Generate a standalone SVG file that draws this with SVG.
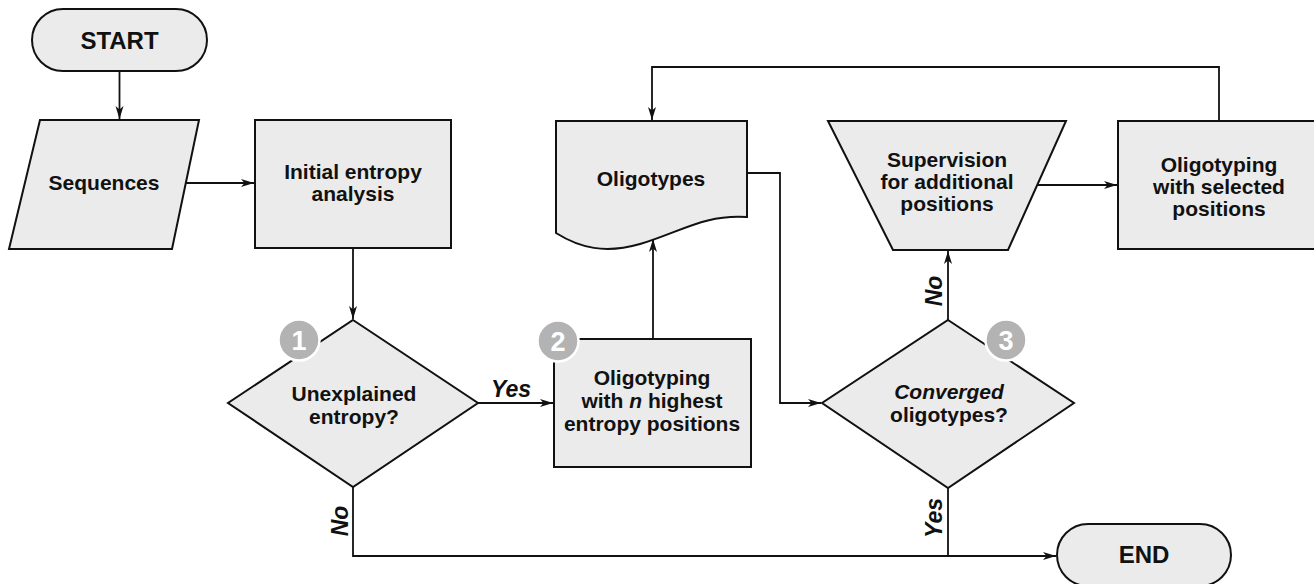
<svg xmlns="http://www.w3.org/2000/svg" width="1314" height="584" viewBox="0 0 1314 584">
<style>
.shape{fill:#ebebeb;stroke:#111;stroke-width:2}
.t{font-family:"Liberation Sans",Arial,sans-serif;font-weight:bold;font-size:21px;fill:#111;text-anchor:middle}
.big{font-size:24px}
.lbl{font-family:"Liberation Sans",Arial,sans-serif;font-weight:bold;font-style:italic;font-size:23px;fill:#111;text-anchor:middle}
.conn{fill:none;stroke:#111;stroke-width:1.8}
.badge circle{fill:#b3b3b3;stroke:#fff;stroke-width:2.5}
.badge text{font-family:"Liberation Sans",Arial,sans-serif;font-weight:bold;font-size:27px;fill:#fff;text-anchor:middle}
</style>
<defs>
<marker id="arr" markerUnits="userSpaceOnUse" markerWidth="14" markerHeight="9" refX="13" refY="4" orient="auto">
<path d="M0,0 L13,4 L0,8 L3.5,4 Z" fill="#111"/>
</marker>
</defs>
<rect width="1314" height="584" fill="#fff"/>
<g id="connectors">
<path class="conn" d="M119.5,71 V119" marker-end="url(#arr)"/>
<path class="conn" d="M186,183 H254" marker-end="url(#arr)"/>
<path class="conn" d="M353,248 V319" marker-end="url(#arr)"/>
<path class="conn" d="M478,403 H553" marker-end="url(#arr)"/>
<path class="conn" d="M653,339 V239" marker-end="url(#arr)"/>
<path class="conn" d="M747,173 H780 V403 H821" marker-end="url(#arr)"/>
<path class="conn" d="M948,320 V251" marker-end="url(#arr)"/>
<path class="conn" d="M1037,185 H1117" marker-end="url(#arr)"/>
<path class="conn" d="M1219,121 V67 H652 V120" marker-end="url(#arr)"/>
<path class="conn" d="M353,487 V556 H1056" marker-end="url(#arr)"/>
<path class="conn" d="M948,488 V556"/>
<text class="lbl" x="511" y="397">Yes</text>
<text class="lbl" transform="translate(348,521) rotate(-90)">No</text>
<text class="lbl" transform="translate(942,291) rotate(-90)">No</text>
<text class="lbl" transform="translate(942,518) rotate(-90)">Yes</text>
</g>
<g id="start">
<rect class="shape" x="32" y="9" width="175" height="62" rx="31"/>
<text class="t big" x="119.5" y="49">START</text>
</g>
<g id="sequences">
<polygon class="shape" points="40,120 199,120 172,249 9,249"/>
<text class="t" x="104" y="190">Sequences</text>
</g>
<g id="initial">
<rect class="shape" x="255" y="120" width="196" height="128"/>
<text class="t" x="353" y="179">Initial entropy</text>
<text class="t" x="353" y="201">analysis</text>
</g>
<g id="unexplained">
<polygon class="shape" points="353,320 478,403 353,487 228,403"/>
<text class="t" x="354" y="401">Unexplained</text>
<text class="t" x="354" y="424">entropy?</text>
</g>
<g id="oligotyping-n">
<rect class="shape" x="554" y="339" width="197" height="128"/>
<text class="t" x="652" y="385">Oligotyping</text>
<text class="t" x="652" y="408">with <tspan font-style="italic">n</tspan> highest</text>
<text class="t" x="652" y="431">entropy positions</text>
</g>
<g id="oligotypes">
<path class="shape" d="M556,121 H747 V217 C705,214 680,232 640,244 C605,254 580,248 556,233 Z"/>
<text class="t" x="651" y="186">Oligotypes</text>
</g>
<g id="converged">
<polygon class="shape" points="948,320 1074,403 948,488 822,403"/>
<text class="t" x="949" y="399"><tspan font-style="italic">Converged</tspan></text>
<text class="t" x="949" y="422">oligotypes?</text>
</g>
<g id="supervision">
<polygon class="shape" points="828,121 1066,121 1008,250 893,250"/>
<text class="t" x="947" y="167">Supervision</text>
<text class="t" x="947" y="189">for additional</text>
<text class="t" x="947" y="211">positions</text>
</g>
<g id="oligotyping-selected">
<rect class="shape" x="1118" y="121" width="202" height="128"/>
<text class="t" x="1219" y="172">Oligotyping</text>
<text class="t" x="1219" y="194">with selected</text>
<text class="t" x="1219" y="216">positions</text>
</g>
<g id="end">
<rect class="shape" x="1057" y="524" width="174" height="62" rx="31"/>
<text class="t big" x="1144" y="563">END</text>
</g>
<g id="badge1" class="badge"><circle cx="299" cy="340" r="20.5"/><text x="299" y="349.5">1</text></g>
<g id="badge2" class="badge"><circle cx="558" cy="341" r="20.5"/><text x="558" y="350.5">2</text></g>
<g id="badge3" class="badge"><circle cx="1006" cy="340" r="20.5"/><text x="1006" y="349.5">3</text></g>
</svg>
